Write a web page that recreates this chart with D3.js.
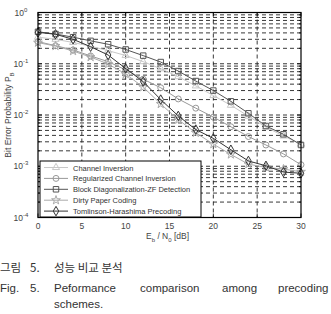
<!DOCTYPE html>
<html>
<head>
<meta charset="utf-8">
<script src="https://cdn.jsdelivr.net/npm/d3@7"></script>
<style>
  body { margin: 0; background: #fff; }
  svg { display: block; font-family: "Liberation Sans", Arial, sans-serif; }
</style>
</head>
<body>
<svg id="chart" width="331" height="314"></svg>
<script>
// Eb/N0 [dB]
const snr = [0, 2, 4, 6, 8, 10, 12, 14, 16, 18, 20, 22, 24, 26, 28, 30]

const channelInv = [0.33, 0.30, 0.26, 0.22, 0.18, 0.145, 0.11, 0.08, 0.056, 0.037, 0.024, 0.0155, 0.0095, 0.0058, 0.0039, 0.0027]
const regChannelInv = [0.27, 0.225, 0.186, 0.142, 0.11, 0.076, 0.05, 0.034, 0.0206, 0.0136, 0.0091, 0.0059, 0.0038, 0.0026, 0.00174, 0.00107]
const blockDiag = [0.42, 0.38, 0.33, 0.28, 0.24, 0.19, 0.144, 0.108, 0.072, 0.046, 0.030, 0.0185, 0.0108, 0.0061, 0.0042, 0.0026]
const dirtyPaper = [0.258, 0.222, 0.177, 0.135, 0.099, 0.063, 0.035, 0.0164, 0.0081, 0.0045, 0.0027, 0.0017, 0.0011, 0.00095, 0.00088, 0.00078]
const tomlinson = [0.41, 0.376, 0.30, 0.215, 0.148, 0.081, 0.0448, 0.020, 0.0096, 0.0052, 0.0035, 0.0021, 0.00127, 0.00102, 0.00077, 0.00073]

const xTicks = [0, 5, 10, 15, 20, 25, 30]
const yExps = [0, -1, -2, -3, -4]

const series = [
  { name: 'Channel Inversion', values: channelInv, color: '#c8c8c8', symbol: d3.symbolTriangle, size: 22 },
  { name: 'Regularized Channel Inversion', values: regChannelInv, color: '#999', symbol: d3.symbolCircle, size: 28 },
  { name: 'Block Diagonalization-ZF Detection', values: blockDiag, color: '#555', symbol: d3.symbolSquare, size: 30 },
  { name: 'Dirty Paper Coding', values: dirtyPaper, color: '#aaa', symbol: d3.symbolStar, size: 24 },
  { name: 'Tomlinson-Harashima Precoding', values: tomlinson, color: '#333', symbol: d3.symbolDiamond, size: 26 }
]

var svg = d3.select('#chart')
var L = 38, R = 301, T = 12.5, B = 217.5

var x = d3.scaleLinear().domain([0, 30]).range([L, R])
var y = d3.scaleLog().domain([1e-4, 1]).range([B, T])

// grid
var grid = svg.append('g')
  .attr('stroke', '#222')
  .attr('stroke-width', 0.9)
  .attr('stroke-dasharray', '4,3')
  .attr('fill', 'none')

var minorY = []
for (let e = -4; e < 0; e++) {
  for (let m = 1; m < 10; m++) minorY.push(m * Math.pow(10, e))
}
grid.selectAll('line.h').data(minorY.filter(v => v > 1e-4)).enter().append('line')
  .attr('x1', L).attr('x2', R)
  .attr('y1', d => y(d)).attr('y2', d => y(d))
grid.selectAll('line.v').data(xTicks.slice(1, -1)).enter().append('line')
  .attr('x1', d => x(d)).attr('x2', d => x(d))
  .attr('y1', T).attr('y2', B)

// curves
var line = d3.line()
  .x((d, i) => x(snr[i]))
  .y(d => y(d))

series.forEach(s => {
  var g = svg.append('g')
  g.append('path')
    .attr('d', line(s.values))
    .attr('fill', 'none')
    .attr('stroke', s.color)
    .attr('stroke-width', 1)
  g.selectAll('path.m').data(s.values).enter().append('path')
    .attr('d', d3.symbol().type(s.symbol).size(s.size))
    .attr('transform', (d, i) => 'translate(' + x(snr[i]) + ',' + y(d) + ')')
    .attr('fill', 'none')
    .attr('stroke', s.color)
    .attr('stroke-width', 1)
})

// frame
svg.append('rect')
  .attr('x', L).attr('y', T).attr('width', R - L).attr('height', B - T)
  .attr('fill', 'none').attr('stroke', '#000').attr('stroke-width', 1.2)

// ticks
var ticks = svg.append('g').attr('stroke', '#000').attr('stroke-width', 0.8)
minorY.concat([1]).forEach(v => {
  var len = Number.isInteger(Math.log10(v)) ? 4 : 2
  ticks.append('line').attr('x1', L).attr('x2', L + len).attr('y1', y(v)).attr('y2', y(v))
  ticks.append('line').attr('x1', R).attr('x2', R - len).attr('y1', y(v)).attr('y2', y(v))
})
xTicks.forEach(v => {
  ticks.append('line').attr('x1', x(v)).attr('x2', x(v)).attr('y1', B).attr('y2', B - 4)
  ticks.append('line').attr('x1', x(v)).attr('x2', x(v)).attr('y1', T).attr('y2', T + 4)
})

// tick labels
svg.append('g').selectAll('text').data(xTicks).enter().append('text')
  .attr('x', d => x(d)).attr('y', 229)
  .attr('text-anchor', 'middle')
  .attr('font-size', 8.5).attr('fill', '#444')
  .text(d => d)

var yl = svg.append('g').selectAll('text').data(yExps).enter().append('text')
  .attr('x', 21).attr('y', d => y(Math.pow(10, d)) + 3)
  .attr('text-anchor', 'middle')
  .attr('font-size', 8.5).attr('fill', '#444')
yl.append('tspan').text('10')
yl.append('tspan').attr('dy', -4).attr('font-size', 6).text(d => d)

// axis labels
var xl = svg.append('text').attr('x', 146).attr('y', 239)
  .attr('font-size', 8.5).attr('fill', '#444')
xl.append('tspan').text('E')
xl.append('tspan').attr('dy', 2.5).attr('font-size', 6).text('b')
xl.append('tspan').attr('dy', -2.5).text(' / N')
xl.append('tspan').attr('dy', 2.5).attr('font-size', 6).text('0')
xl.append('tspan').attr('dy', -2.5).text('  [dB]')

var ylab = svg.append('text')
  .attr('transform', 'translate(11,115) rotate(-90)')
  .attr('text-anchor', 'middle')
  .attr('font-size', 8.5).attr('fill', '#444')
ylab.append('tspan').text('Bit Error Probability  P')
ylab.append('tspan').attr('dy', 2.5).attr('font-size', 6).text('B')

// legend
var lg = svg.append('g')
lg.append('rect')
  .attr('x', 40).attr('y', 161).attr('width', 161).attr('height', 56)
  .attr('fill', '#fff').attr('stroke', '#000').attr('stroke-width', 1)
series.forEach((s, i) => {
  var ly = 167.5 + i * 10.9
  lg.append('line').attr('x1', 44).attr('x2', 68).attr('y1', ly).attr('y2', ly)
    .attr('stroke', s.color).attr('stroke-width', 1)
  lg.append('path')
    .attr('d', d3.symbol().type(s.symbol).size(s.size))
    .attr('transform', 'translate(56,' + ly + ')')
    .attr('fill', 'none').attr('stroke', s.color)
  lg.append('text').attr('x', 73).attr('y', ly + 3)
    .attr('font-size', 7.5).attr('fill', '#333')
    .text(s.name)
})

// caption
var cap = svg.append('g').attr('fill', '#333').attr('font-size', 11.5)
  .attr('font-family', '"Noto Sans CJK KR", "Liberation Sans", sans-serif')
cap.append('text').attr('x', 0).attr('y', 272).text('그림')
cap.append('text').attr('x', 30).attr('y', 272).text('5.')
cap.append('text').attr('x', 54).attr('y', 272).text('성능 비교 분석')
var line2 = [['Fig.', 0], ['5.', 30], ['Peformance', 54], ['comparison', 140], ['among', 222], ['precoding', 278]]
line2.forEach(w => {
  cap.append('text').attr('x', w[1]).attr('y', 292)
    .attr('font-family', '"Liberation Sans", Arial, sans-serif')
    .text(w[0])
})
cap.append('text').attr('x', 54).attr('y', 308)
  .attr('font-family', '"Liberation Sans", Arial, sans-serif')
  .text('schemes.')
</script>
</body>
</html>
